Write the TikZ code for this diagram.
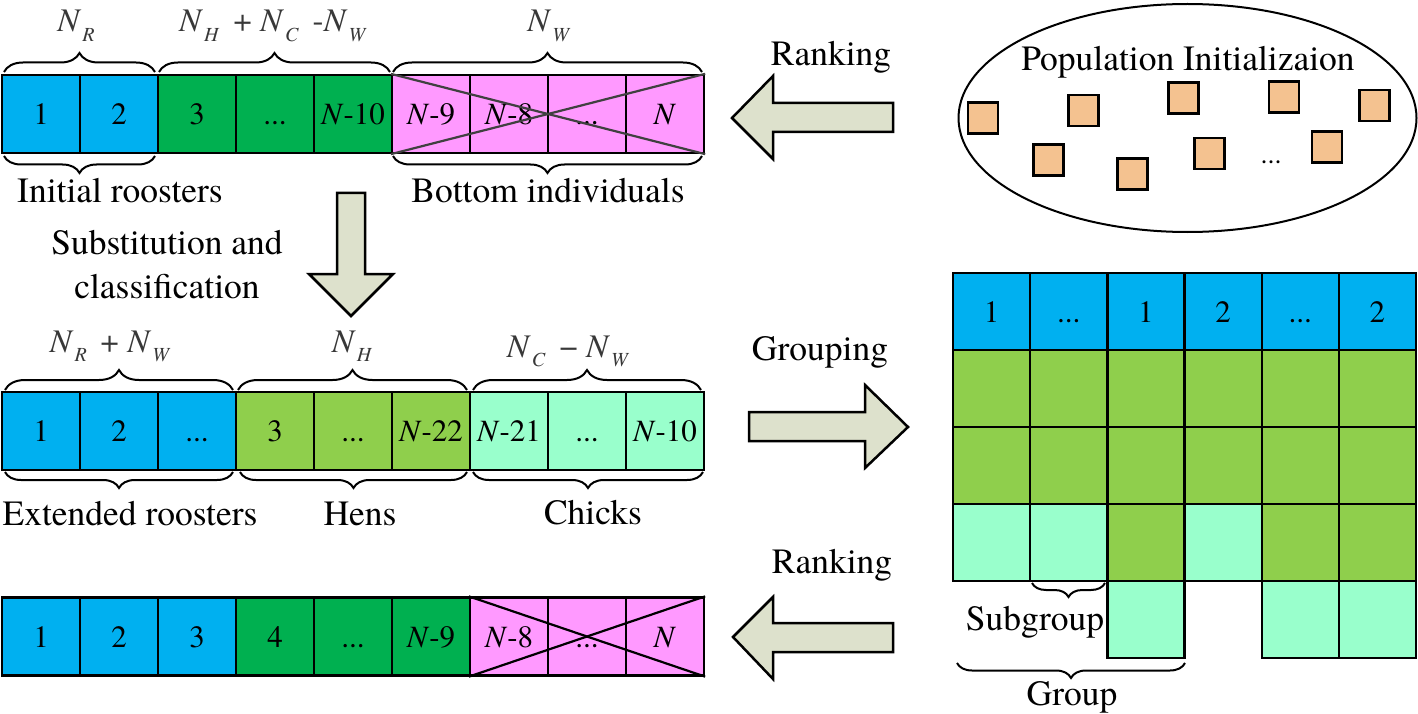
\documentclass[tikz,border=0pt]{standalone}
\usepackage{fontspec}
\IfFontExistsTF{texgyretermes-regular.otf}{%
  \setmainfont{texgyretermes}[Extension=.otf, UprightFont=*-regular, ItalicFont=*-italic, BoldFont=*-bold, BoldItalicFont=*-bolditalic]}{}
\usetikzlibrary{decorations.pathreplacing,shapes.geometric}
\definecolor{cblue}{HTML}{00B0F0}
\definecolor{cdgreen}{HTML}{00B050}
\definecolor{clgreen}{HTML}{8FCF4C}
\definecolor{cmint}{HTML}{99FFCC}
\definecolor{cpink}{HTML}{FF99FF}
\definecolor{corange}{HTML}{F4C290}
\definecolor{carrow}{HTML}{DDE1CC}
\newcommand\mydots{...}
\newcommand\Nsub[1]{\textit{N}\kern1pt\raisebox{-0.3em}{\fontsize{20}{20}\selectfont\textit{#1}}}
\begin{document}
\begin{tikzpicture}[x=1pt,y=-1pt,
 cell/.style={draw=black, line width=2.3pt, minimum width=78pt, minimum height=78pt, inner sep=0pt, text height=21pt, text depth=0pt, font=\fontsize{31}{31}\selectfont},
 gcell/.style={cell, minimum width=77.2pt, minimum height=77pt},
 lab/.style={font=\fontsize{35.5}{44}\selectfont, inner sep=0pt, align=center},
 blab/.style={font=\fontsize{33}{33}\selectfont, inner sep=0pt, anchor=base, text=black!78},
 brc/.style={decorate, decoration={brace, amplitude=#1}, line width=2pt},
 brcm/.style={decorate, decoration={brace, mirror, amplitude=#1}, line width=2pt},
 barrow/.style={draw=black, line width=2.5pt, fill=carrow, line join=miter},
 osq/.style={draw=black, line width=2.5pt, fill=corange, minimum width=30pt, minimum height=31pt, inner sep=0pt},
 xline/.style={line width=2.2pt}
]
\useasboundingbox (0,0) rectangle (1418,714);

% ---------- top row ----------
\foreach \i/\c/\t in {0/cblue/1,1/cblue/2,2/cdgreen/3,3/cdgreen/\mydots,4/cdgreen/\textit{N}-10,5/cpink/\textit{N}-9,6/cpink/\textit{N}-8,7/cpink/\mydots,8/cpink/\textit{N}}
  \node[cell, fill=\c] (t\i) at ({41+78*\i},114) {\t};
\draw[xline, draw=black!75] (t5.north west) -- (t8.south east);
\draw[xline, draw=black!75] (t5.south west) -- (t8.north east);

\draw[brc=19pt] (4,72) -- (155,72);
\draw[brc=19pt] (159,72) -- (390,72);
\draw[brc=19pt] (393,72) -- (702,72);
\node[blab] (lnr) at (76,32) {\Nsub{R}};
\node[blab] (lnhc) at (273,32) {\Nsub{H}\, + \Nsub{C}\, -\Nsub{W}};
\node[blab] (lnw) at (549,32) {\Nsub{W}};
\draw[brcm=17pt] (4,156) -- (155,156);
\draw[brcm=17pt] (393,156) -- (702,156);
\node[lab] (linit) at (120,191) {Initial roosters};
\node[lab] (lbot) at (548,191) {Bottom individuals};

% ---------- substitution ----------
\node[lab] (lsub) at (167,265) {Substitution and\\classification};
\draw[barrow] (337,193) -- (365,193) -- (365,274) -- (393,274) -- (351,316) -- (309,274) -- (337,274) -- cycle;

% ---------- middle row ----------
\foreach \i/\c/\t in {0/cblue/1,1/cblue/2,2/cblue/\mydots,3/clgreen/3,4/clgreen/\mydots,5/clgreen/\textit{N}-22,6/cmint/\textit{N}-21,7/cmint/\mydots,8/cmint/\textit{N}-10}
  \node[cell, fill=\c] (m\i) at ({41+78*\i},431) {\t};
\draw[brc=20pt] (5,390) -- (233,390);
\draw[brc=20pt] (238,390) -- (467,390);
\draw[brc=20pt] (473,390) -- (701,390);
\node[blab] (lnrw) at (110,352) {\Nsub{R}\, + \Nsub{W}};
\node[blab] (lnh) at (352,352) {\Nsub{H}};
\node[blab] (lncw) at (568,357) {\Nsub{C}\, \char"2212\ \Nsub{W}};
\draw[brcm=16pt] (5,472) -- (233,472);
\draw[brcm=16pt] (240,472) -- (467,472);
\draw[brcm=16pt] (473,472) -- (703,472);
\node[lab] (lext) at (130,514) {Extended roosters};
\node[lab] (lhens) at (360,514) {Hens};
\node[lab] (lchk) at (593,513) {Chicks};

% ---------- bottom row ----------
\foreach \i/\c/\t in {0/cblue/1,1/cblue/2,2/cblue/3,3/cdgreen/4,4/cdgreen/\mydots,5/cdgreen/\textit{N}-9,6/cpink/\textit{N}-8,7/cpink/\mydots,8/cpink/\textit{N}}
  \node[cell, fill=\c] (b\i) at ({41+78*\i},636.5) {\t};
\draw[xline] (b6.north west) -- (b8.south east);
\draw[xline] (b6.south west) -- (b8.north east);

% ---------- arrows ----------
\node[lab] (lrank1) at (831,57) {Ranking};
\draw[barrow] (893,103) -- (773,103) -- (773,76) -- (732,118) -- (773,159) -- (773,132) -- (893,132) -- cycle;
\node[lab] (lgroup) at (820,352) {Grouping};
\draw[barrow] (749,412) -- (865,412) -- (865,385) -- (908,427) -- (865,468) -- (865,441) -- (749,441) -- cycle;
\node[lab] (lrank2) at (832,565) {Ranking};
\draw[barrow] (893,623) -- (773,623) -- (773,597) -- (733,637) -- (773,679) -- (773,652) -- (893,652) -- cycle;

% ---------- population ----------
\node[draw=black, line width=2pt, ellipse, minimum width=458pt, minimum height=228pt, inner sep=0pt] (pop) at (1187.5,118) {};
\node[lab] (lpop) at (1188,62) {Population Initializaion};
\foreach \k/\x/\y in {1/983/118,2/1083.5/110.5,3/1183.5/98,4/1284/97,5/1374.5/105.5,6/1048.5/160,7/1132.5/174,8/1209.5/153.5,9/1327/147}
  \node[osq] (sq\k) at (\x,\y) {};
\node[font=\fontsize{28}{28}\selectfont, inner sep=0pt, anchor=base] (sqdots) at (1271,164) {\mydots};

% ---------- grid ----------
\foreach \j/\t in {0/1,1/\mydots,2/1,3/2,4/\mydots,5/2}
  \node[gcell, fill=cblue] (g0\j) at ({991.6+77.17*\j},311.5) {\t};
\foreach \i in {1,2}
  \foreach \j in {0,...,5}
    \node[gcell, fill=clgreen] (g\i\j) at ({991.6+77.17*\j},{311.5+77*\i}) {};
\foreach \j/\c in {0/cmint,1/cmint,2/clgreen,3/cmint,4/clgreen,5/clgreen}
  \node[gcell, fill=\c] (g3\j) at ({991.6+77.17*\j},542.5) {};
\foreach \j in {2,4,5}
  \node[gcell, fill=cmint] (g4\j) at ({991.6+77.17*\j},619.5) {};

\draw[brcm=14pt] (1032,583) -- (1105,583);
\node[lab] (lsubg) at (1035,622) {Subgroup};
\draw[brcm=15pt] (957,663) -- (1185,663);
\node[lab] (lgrp) at (1072,697) {Group};
\end{tikzpicture}
\end{document}
